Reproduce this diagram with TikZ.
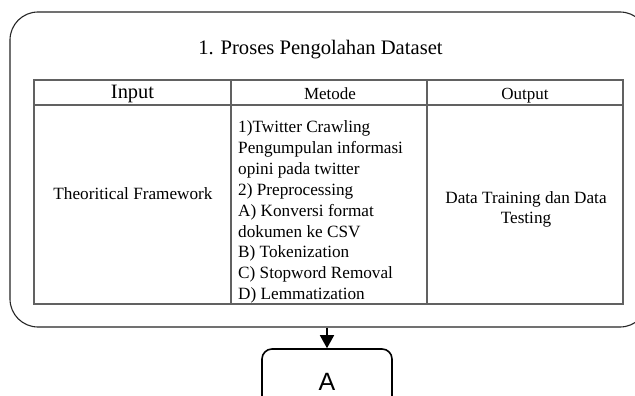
\documentclass[tikz,border=0pt]{standalone}
\usepackage{fontspec}
\setmainfont{Liberation Serif}
\newfontfamily\labelsans{Liberation Sans}
\usetikzlibrary{arrows.meta}

\begin{document}
\begin{tikzpicture}[x=1pt,y=-1pt,
  framebox/.style={draw=black!85, line width=1.1pt, rounded corners=28pt,
    minimum width=638pt, minimum height=315pt, inner sep=0pt},
  tablegrid/.style={draw=black!62, line width=1.3pt},
  txt/.style={inner sep=0pt, text=black},
  titletext/.style={txt, font=\fontsize{20.6pt}{24pt}\selectfont},
  headbig/.style={txt, font=\fontsize{20.4pt}{24pt}\selectfont},
  headsmall/.style={txt, font=\fontsize{17pt}{20pt}\selectfont},
  bodytext/.style={txt, font=\fontsize{17.2pt}{20.9pt}\selectfont},
  outtext/.style={txt, font=\fontsize{17.2pt}{20pt}\selectfont},
  stagebox/.style={draw=black, line width=1.6pt, rounded corners=10pt,
    minimum width=130pt, minimum height=66pt, inner sep=0pt,
    font=\labelsans\fontsize{25pt}{28pt}\selectfont},
  flowarrow/.style={draw=black, line width=1.6pt, -{Triangle[length=13pt,width=14pt]}}
]
\clip (0,0) rectangle (635,396);
\fill[white] (0,0) rectangle (635,396);

% rounded frame of stage 1
\node[framebox] (frame) at (329,169.5) {};
\node[titletext, anchor=base] (title) at (320.5,55) {1. Proses Pengolahan Dataset};

% table grid
\coordinate (tnw) at (34,80);
\coordinate (tse) at (623,304);
\draw[tablegrid] (tnw) rectangle (tse);
\draw[tablegrid] (34,105) -- (623,105);
\draw[tablegrid] (231,80) -- (231,304);
\draw[tablegrid] (427,80) -- (427,304);

% header row
\node[headbig, anchor=base] (hinput) at (132.5,99) {Input};
\node[headsmall, anchor=base] (hmetode) at (330,99.5) {Metode};
\node[headsmall, anchor=base] (houtput) at (525,99.5) {Output};

% body row
\node[bodytext, anchor=base] (cinput) at (133,199) {Theoritical Framework};
\node[bodytext, anchor=north west, align=left] (cmetode) at (238,120.4)
  {1)Twitter Crawling\\
   Pengumpulan informasi\\
   opini pada twitter\\
   2) Preprocessing\\
   A) Konversi format\\
   dokumen ke CSV\\
   B) Tokenization\\
   C) Stopword Removal\\
   D) Lemmatization};
\node[outtext, anchor=north, align=center] (coutput) at (526,191.6)
  {Data Training dan Data\\Testing};

% next stage
\node[stagebox] (stageA) at (327,382) {A};
\draw[flowarrow] (frame.south -| stageA.north) -- (stageA.north);
\end{tikzpicture}
\end{document}
